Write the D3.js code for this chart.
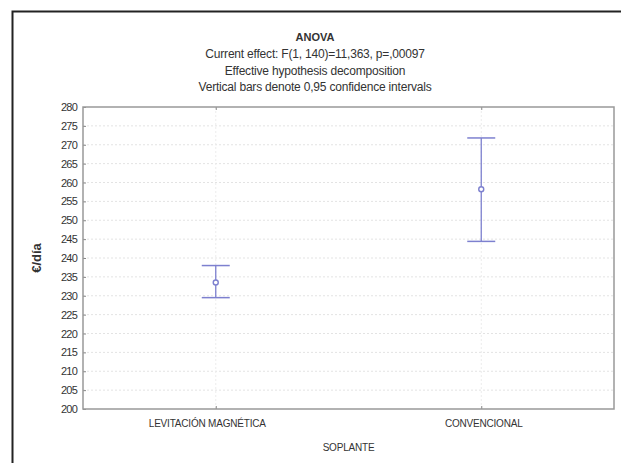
<!DOCTYPE html>
<html>
<head>
<meta charset="utf-8">
<script src="https://cdn.jsdelivr.net/npm/d3@7"></script>
<style>
  body { margin: 0; background: #fff; }
  text { font-family: "Liberation Sans", Arial, sans-serif; fill: #333; }
</style>
</head>
<body>
<svg id="chart" width="621" height="463"></svg>
<script>
const categories = ["LEVITACIÓN MAGNÉTICA", "CONVENCIONAL"];
const means = [233.5, 258.2];
const lower = [229.5, 244.4];
const upper = [238.0, 271.8];
const yTicks = d3.range(200, 281, 5);
const titleLines = [
  "Current effect: F(1, 140)=11,363, p=,00097",
  "Effective hypothesis decomposition",
  "Vertical bars denote 0,95 confidence intervals"
];

const svg = d3.select("#chart");
const margin = {left: 83, right: 7, top: 107, bottom: 54};
const width = 621, height = 463;
const color = "#7d80cf";

// outer frame (left and top edge visible)
svg.append("path")
  .attr("d", "M12.5,463 L12.5,11.5 L621,11.5")
  .attr("fill", "none")
  .attr("stroke", "#222")
  .attr("stroke-width", 2);

const x = d3.scalePoint()
  .domain(categories)
  .range([margin.left, width - margin.right])
  .padding(0.5);

const y = d3.scaleLinear()
  .domain([200, 280])
  .range([height - margin.bottom, margin.top]);

// gridlines
svg.append("g")
  .selectAll("line")
  .data(yTicks.slice(1, -1))
  .join("line")
    .attr("x1", margin.left).attr("x2", width - margin.right)
    .attr("y1", d => y(d)).attr("y2", d => y(d))
    .attr("stroke", "#e3e3e3")
    .attr("stroke-dasharray", "2,2");

svg.append("g")
  .selectAll("line")
  .data(categories)
  .join("line")
    .attr("x1", d => x(d)).attr("x2", d => x(d))
    .attr("y1", margin.top).attr("y2", height - margin.bottom)
    .attr("stroke", "#ececec")
    .attr("stroke-dasharray", "2,2");

// y axis with inner ticks
const yAxis = svg.append("g")
  .attr("transform", `translate(${margin.left},0)`)
  .call(d3.axisLeft(y).tickValues(yTicks).tickSizeInner(-3).tickSizeOuter(0).tickPadding(6));
yAxis.select(".domain").remove();
yAxis.selectAll(".tick line").attr("stroke", "#888");
yAxis.selectAll("text")
  .style("font-size", "11px")
  .style("letter-spacing", "-0.8px")
  .attr("fill", "#444");

// x axis bottom
const xAxis = svg.append("g")
  .attr("transform", `translate(0,${height - margin.bottom})`)
  .call(d3.axisBottom(x).tickSizeInner(-3).tickSizeOuter(0).tickPadding(11));
xAxis.select(".domain").remove();
xAxis.selectAll(".tick line").attr("stroke", "#888");
xAxis.selectAll("text")
  .style("font-size", "10px")
  .style("letter-spacing", "-0.2px")
  .attr("fill", "#444")
  .attr("dx", (d, i) => i === 0 ? -9 : 2);

// top ticks
svg.append("g")
  .attr("transform", `translate(0,${margin.top})`)
  .call(d3.axisTop(x).tickSizeInner(-3).tickSizeOuter(0).tickFormat(""))
  .call(g => g.select(".domain").remove())
  .call(g => g.selectAll(".tick line").attr("stroke", "#888"));

// plot frame
svg.append("rect")
  .attr("x", margin.left).attr("y", margin.top)
  .attr("width", width - margin.left - margin.right)
  .attr("height", height - margin.top - margin.bottom)
  .attr("fill", "none")
  .attr("stroke", "#999")
  .attr("stroke-width", 1.5);

// error bars
const capW = 14;
const bars = svg.append("g")
  .selectAll("g")
  .data(categories)
  .join("g");

bars.append("line")
  .attr("x1", d => x(d)).attr("x2", d => x(d))
  .attr("y1", (d, i) => y(upper[i])).attr("y2", (d, i) => y(lower[i]))
  .attr("stroke", color).attr("stroke-width", 1.3);

bars.append("line")
  .attr("x1", d => x(d) - capW).attr("x2", d => x(d) + capW)
  .attr("y1", (d, i) => y(upper[i])).attr("y2", (d, i) => y(upper[i]))
  .attr("stroke", color).attr("stroke-width", 1.5);

bars.append("line")
  .attr("x1", d => x(d) - capW).attr("x2", d => x(d) + capW)
  .attr("y1", (d, i) => y(lower[i])).attr("y2", (d, i) => y(lower[i]))
  .attr("stroke", color).attr("stroke-width", 1.5);

bars.append("circle")
  .attr("cx", d => x(d))
  .attr("cy", (d, i) => y(means[i]))
  .attr("r", 2.5)
  .attr("fill", "#fff")
  .attr("stroke", color)
  .attr("stroke-width", 1.4);

// titles
const cx = 315;
svg.append("text")
  .attr("x", cx).attr("y", 41)
  .attr("text-anchor", "middle")
  .style("font-size", "11px")
  .style("font-weight", "bold")
  .text("ANOVA");

svg.selectAll(".sub")
  .data(titleLines)
  .join("text")
    .attr("class", "sub")
    .attr("x", cx)
    .attr("y", (d, i) => 58 + i * 16.5)
    .attr("text-anchor", "middle")
    .style("font-size", "12px")
    .style("letter-spacing", "-0.2px")
    .text(d => d);

// axis titles
svg.append("text")
  .attr("transform", `translate(41,${(margin.top + height - margin.bottom) / 2}) rotate(-90)`)
  .attr("text-anchor", "middle")
  .style("font-size", "13px")
  .style("font-weight", "bold")
  .attr("fill", "#222")
  .text("€/día");

svg.append("text")
  .attr("x", x(categories[0]) + (x(categories[1]) - x(categories[0])) / 2)
  .attr("y", 451)
  .attr("text-anchor", "middle")
  .style("font-size", "10px")
  .style("letter-spacing", "-0.2px")
  .attr("fill", "#444")
  .text("SOPLANTE");
</script>
</body>
</html>
